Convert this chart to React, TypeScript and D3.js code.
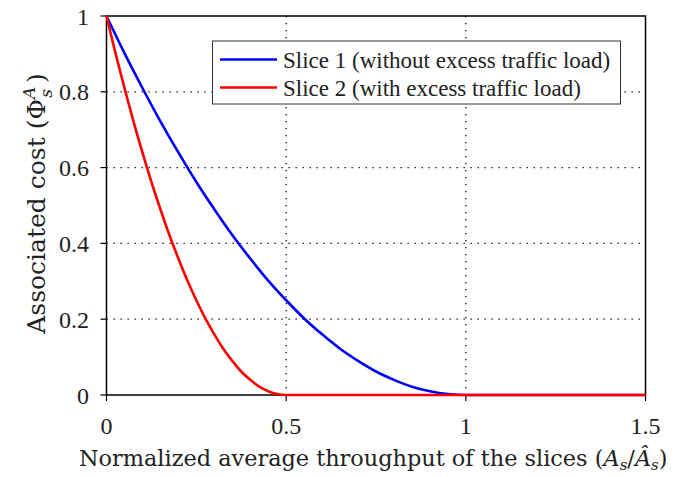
import React from "react";
import * as d3 from "d3";

// Values
const slice1X = [0, 0.05, 0.1, 0.15, 0.2, 0.25, 0.3, 0.35, 0.4, 0.45, 0.5, 0.55, 0.6, 0.65, 0.7, 0.75, 0.8, 0.85, 0.9, 0.95, 1.0, 1.25, 1.5];
const slice1Y = [1, 0.902, 0.81, 0.722, 0.64, 0.562, 0.49, 0.422, 0.36, 0.302, 0.25, 0.202, 0.16, 0.122, 0.09, 0.062, 0.04, 0.022, 0.01, 0.0025, 0, 0, 0];
const slice2X = [0, 0.025, 0.05, 0.075, 0.1, 0.125, 0.15, 0.175, 0.2, 0.225, 0.25, 0.275, 0.3, 0.325, 0.35, 0.375, 0.4, 0.425, 0.45, 0.475, 0.5, 1.0, 1.5];
const slice2Y = [1, 0.902, 0.81, 0.722, 0.64, 0.562, 0.49, 0.422, 0.36, 0.302, 0.25, 0.202, 0.16, 0.122, 0.09, 0.062, 0.04, 0.022, 0.01, 0.0025, 0, 0, 0];
const xTicks = [0, 0.5, 1, 1.5];
const xTickLabels = ["0", "0.5", "1", "1.5"];
const yTicks = [0, 0.2, 0.4, 0.6, 0.8, 1];
const yTickLabels = ["0", "0.2", "0.4", "0.6", "0.8", "1"];
const xGrid = [0.5, 1];
const yGrid = [0.2, 0.4, 0.6, 0.8];
const seriesNames = ["Slice 1 (without excess traffic load)", "Slice 2 (with excess traffic load)"];
const seriesColors = ["#0000ff", "#ff0000"];

export default function App() {
  const W = 693, H = 477;
  const L = 106.5, R = 645.5, T = 16, B = 395;
  const x = d3.scaleLinear().domain([0, 1.5]).range([L, R]);
  const y = d3.scaleLinear().domain([0, 1]).range([B, T]);
  const line = d3
    .line<[number, number]>()
    .x((d) => x(d[0]))
    .y((d) => y(d[1]))
    .curve(d3.curveMonotoneX);
  const s1 = slice1X.map((v, i) => [v, slice1Y[i]] as [number, number]);
  const s2 = slice2X.map((v, i) => [v, slice2Y[i]] as [number, number]);
  const ff = "Liberation Serif, DejaVu Serif, serif";
  const ts = { fontFamily: ff };
  const ls = { fontFamily: "DejaVu Serif, Liberation Serif, serif" };
  const textFill = "#222";

  return (
    <svg width={W} height={H} style={{ position: "absolute", left: 0, top: 0, background: "#fff", fontFamily: ff }}>
      <rect x={0} y={0} width={W} height={H} fill="#fff" />
      {/* grid */}
      {yGrid.map((v) => (
        <line key={"yg" + v} x1={L} x2={R} y1={y(v)} y2={y(v)} stroke="#000" strokeWidth={1.3} strokeDasharray="1.3 5.7" />
      ))}
      {xGrid.map((v) => (
        <line key={"xg" + v} x1={x(v)} x2={x(v)} y1={T} y2={B} stroke="#000" strokeWidth={1.3} strokeDasharray="1.3 5.7" />
      ))}
      {/* frame */}
      <rect x={L} y={T} width={R - L} height={B - T} fill="none" stroke="#000" strokeWidth={1.5} />
      {/* ticks */}
      {yTicks.map((v) => (
        <line key={"yt" + v} x1={L - 6} x2={L} y1={y(v)} y2={y(v)} stroke="#000" strokeWidth={1.2} />
      ))}
      {xTicks.map((v) => (
        <line key={"xt" + v} x1={x(v)} x2={x(v)} y1={B} y2={B + 6} stroke="#000" strokeWidth={1.2} />
      ))}
      {yTicks.map((v, i) => (
        <text key={"yl" + v} x={89} y={y(v) + 8.5} textAnchor="end" fontSize={24} fill={textFill} style={ts}>
          {yTickLabels[i]}
        </text>
      ))}
      {xTicks.map((v, i) => (
        <text key={"xl" + v} x={x(v)} y={433.5} textAnchor="middle" fontSize={24} fill={textFill} style={ts}>
          {xTickLabels[i]}
        </text>
      ))}
      {/* curves */}
      <path d={line(s1) || ""} fill="none" stroke={seriesColors[0]} strokeWidth={2.6} />
      <path d={line(s2) || ""} fill="none" stroke={seriesColors[1]} strokeWidth={2.6} />
      {/* legend */}
      <rect x={212.5} y={41} width={408} height={63} fill="#fff" stroke="#333" strokeWidth={1} />
      {seriesNames.map((n, i) => (
        <g key={n}>
          <line x1={220} x2={277} y1={59.5 + i * 28} y2={59.5 + i * 28} stroke={seriesColors[i]} strokeWidth={2.6} />
          <text x={283} y={67.5 + i * 28} fontSize={23} fill={textFill} style={ts}>
            {n}
          </text>
        </g>
      ))}
      {/* x axis label */}
      <text x={79} y={466} fontSize={22.4} fill={textFill} style={ls}>
        Normalized average throughput of the slices (
        <tspan fontStyle="italic">A</tspan>
        <tspan fontStyle="italic" fontSize={15} dy={4}>s</tspan>
        <tspan dy={-4}>/</tspan>
        <tspan fontStyle="italic">Â</tspan>
        <tspan fontStyle="italic" fontSize={15} dy={4}>s</tspan>
        <tspan dy={-4}>)</tspan>
      </text>
      {/* y axis label */}
      <text transform="translate(45,203.5) rotate(-90)" textAnchor="middle" fontSize={25} fill={textFill} style={ls}>
        Associated cost (Φ
        <tspan fontStyle="italic" fontSize={17} dy={-10}>A</tspan>
        <tspan fontStyle="italic" fontSize={17} dx={-11} dy={17}>s</tspan>
        <tspan dy={-7} dx={6}>)</tspan>
      </text>
    </svg>
  );
}
